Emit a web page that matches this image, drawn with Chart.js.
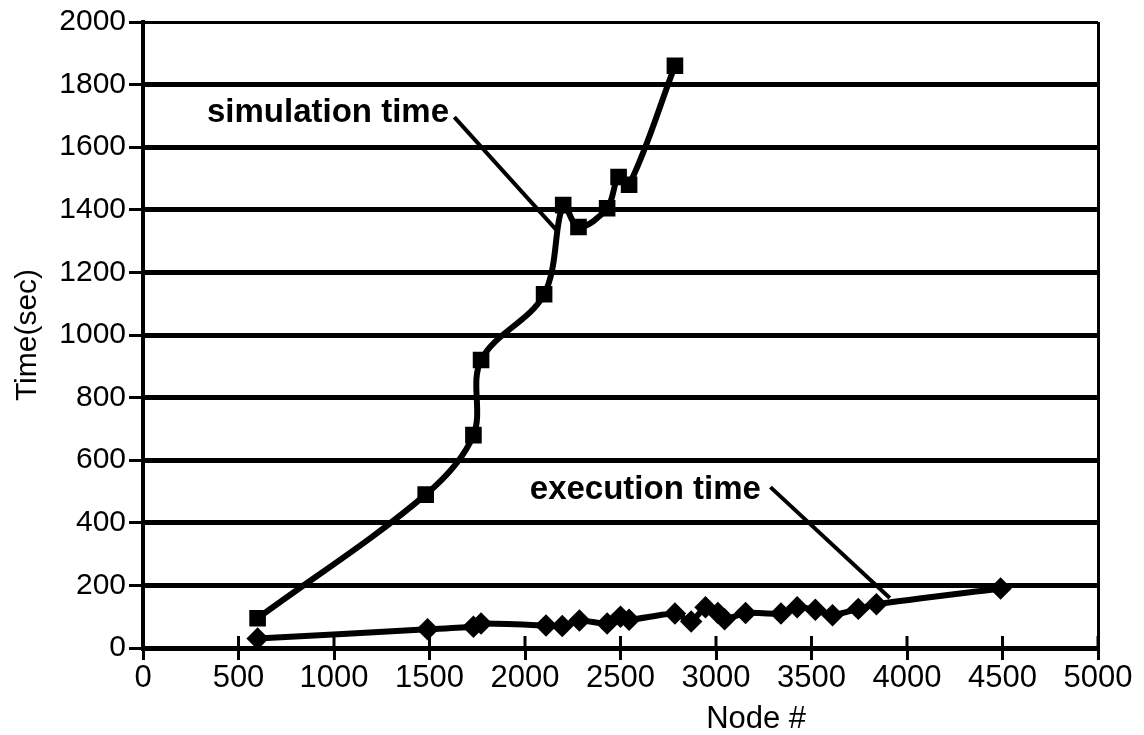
<!DOCTYPE html>
<html>
<head>
<meta charset="utf-8">
<script src="https://cdn.jsdelivr.net/npm/chart.js@4.4.0/dist/chart.umd.min.js"></script>
<style>
  html, body { margin: 0; padding: 0; background: #fff; }
  #wrap { width: 1144px; height: 735px; }
</style>
</head>
<body>
<div id="wrap"><canvas id="c" width="1144" height="735"></canvas></div>
<script>
// simulation time (squares)
const simNodes = [600, 1480, 1730, 1770, 2100, 2200, 2280, 2430, 2490, 2545, 2785];
const simTimes = [95, 490, 680, 920, 1130, 1415, 1345, 1405, 1505, 1480, 1860];

// execution time (diamonds)
const execNodes = [600, 1490, 1730, 1770, 2110, 2195, 2285, 2430, 2500, 2545, 2785, 2870, 2945, 3010, 3045, 3155, 3340, 3425, 3520, 3610, 3745, 3840, 4490];
const execTimes = [30, 60, 68, 78, 72, 70, 88, 78, 100, 90, 110, 85, 130, 112, 92, 112, 110, 130, 122, 105, 125, 140, 190];

// callout labels: text position and leader line (data coords)
const labels = [
  { text: 'simulation time', at: [335, 1708], from: [1630, 1696], to: [2165, 1335] },
  { text: 'execution time', at: [2025, 505], from: [3285, 514], to: [3910, 160] }
];

const FONT = "'Liberation Sans', Arial, sans-serif";

const pts = (xs, ys) => xs.map((x, i) => ({ x: x, y: ys[i] }));

// upward half of the x tick marks, callouts and the x-axis title
const extras = {
  id: 'extras',
  afterDraw(chart) {
    const ctx = chart.ctx;
    const xs = chart.scales.x, ys = chart.scales.y;
    const bottom = chart.chartArea.bottom;
    ctx.save();
    ctx.strokeStyle = '#000';
    ctx.lineWidth = 3;
    xs.ticks.forEach(t => {
      if (t.value === 0) return;
      const px = xs.getPixelForValue(t.value);
      ctx.beginPath();
      ctx.moveTo(px, bottom - 12);
      ctx.lineTo(px, bottom);
      ctx.stroke();
    });

    ctx.fillStyle = '#000';
    ctx.font = 'bold 33px ' + FONT;
    ctx.textBaseline = 'middle';
    ctx.textAlign = 'left';
    labels.forEach(l => {
      ctx.fillText(l.text, xs.getPixelForValue(l.at[0]), ys.getPixelForValue(l.at[1]));
      ctx.lineWidth = 4;
      ctx.beginPath();
      ctx.moveTo(xs.getPixelForValue(l.from[0]), ys.getPixelForValue(l.from[1]));
      ctx.lineTo(xs.getPixelForValue(l.to[0]), ys.getPixelForValue(l.to[1]));
      ctx.stroke();
    });

    ctx.font = '31px ' + FONT;
    ctx.textAlign = 'center';
    ctx.fillText('Node #', xs.getPixelForValue(3210), 719);
    ctx.restore();
  }
};

new Chart(document.getElementById('c'), {
  type: 'line',
  data: {
    datasets: [{
      label: 'simulation time',
      data: pts(simNodes, simTimes),
      borderColor: '#000',
      backgroundColor: '#000',
      borderWidth: 6,
      pointStyle: 'rect',
      pointRadius: 7.5,
      tension: 0.35
    }, {
      label: 'execution time',
      data: pts(execNodes, execTimes),
      borderColor: '#000',
      backgroundColor: '#000',
      borderWidth: 6,
      pointStyle: 'rectRot',
      pointRadius: 7,
      tension: 0.2
    }]
  },
  options: {
    responsive: false,
    animation: false,
    layout: { padding: { top: 22, right: 46, left: 0, bottom: 0 } },
    plugins: { legend: { display: false }, tooltip: { enabled: false } },
    scales: {
      x: {
        type: 'linear',
        min: 0, max: 5000,
        ticks: { stepSize: 500, color: '#000', font: { family: FONT, size: 31 }, padding: 0, maxRotation: 0, callback: v => String(v) },
        grid: {
          drawOnChartArea: true,
          color: c => c.tick && c.tick.value === 5000 ? '#000' : 'rgba(0,0,0,0)',
          lineWidth: 3,
          tickColor: '#000',
          tickWidth: 3,
          tickLength: 12
        },
        border: { display: true, color: '#000', width: 5 },
        afterFit(scale) { scale.height = 87; }
      },
      y: {
        min: 0, max: 2000,
        ticks: { stepSize: 200, color: '#000', font: { family: FONT, size: 30 }, padding: 3, callback: v => String(v) },
        grid: {
          color: '#000',
          lineWidth: c => c.tick && c.tick.value === 2000 ? 3 : 5,
          tickColor: '#000',
          tickWidth: 3,
          tickLength: 14
        },
        border: { display: true, color: '#000', width: 4 },
        title: { display: true, text: 'Time(sec)', color: '#000', font: { family: FONT, size: 30 }, padding: { top: 10, bottom: 0 } },
        afterFit(scale) { scale.width = 143; }
      }
    }
  },
  plugins: [extras]
});
</script>
</body>
</html>
